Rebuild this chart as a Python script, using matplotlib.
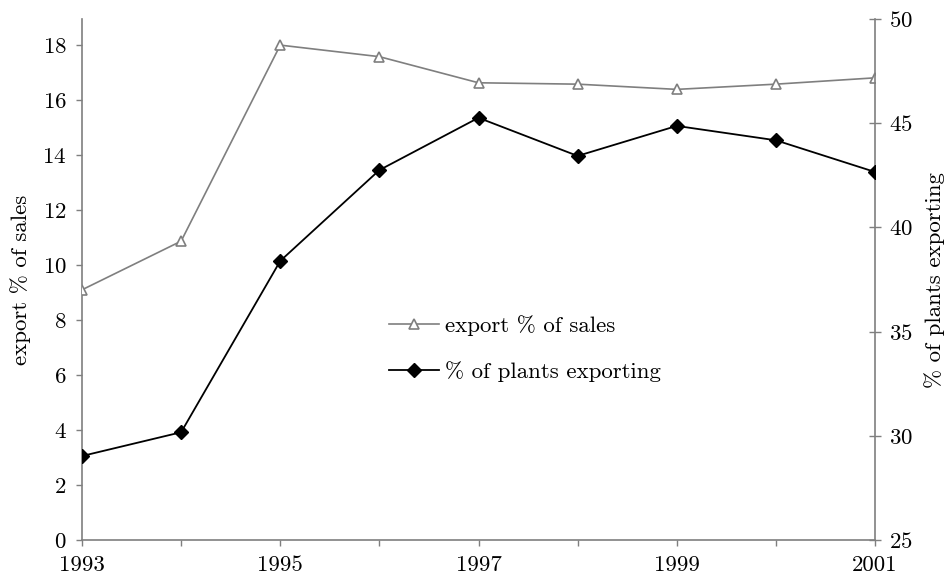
import matplotlib
matplotlib.use("Agg")
import matplotlib.pyplot as plt

plt.rcParams['font.family'] = ['cmr10', 'DejaVu Serif']
plt.rcParams['axes.formatter.use_mathtext'] = True

years = [1993, 1994, 1995, 1996, 1997, 1998, 1999, 2000, 2001]
export_share = [9.1, 10.87, 18.0, 17.58, 16.63, 16.58, 16.39, 16.58, 16.81]
plants_exporting = [29.03, 30.17, 38.39, 42.75, 45.26, 43.43, 44.87, 44.18, 42.66]
year_labels = ['1993', '', '1995', '', '1997', '', '1999', '', '2001']
left_ticks = [0, 2, 4, 6, 8, 10, 12, 14, 16, 18]
right_ticks = [25, 30, 35, 40, 45, 50]

GRAY = '#7f7f7f'
FS = 16.5

fig = plt.figure(figsize=(9.47, 5.84), dpi=100)
ax = fig.add_axes([82 / 947, 1 - 540 / 584, (875 - 82) / 947, (540 - 19) / 584])
ax2 = ax.twinx()

l1, = ax.plot(years, export_share, color=GRAY, lw=1.2, marker='^', ms=6.5,
              mfc='white', mec=GRAY, mew=1.2, label='export % of sales', zorder=3)
l2, = ax2.plot(years, plants_exporting, color='black', lw=1.3, marker='D', ms=7,
               mfc='black', mec='black', label='% of plants exporting', zorder=3)

ax.set_xlim(1993, 2001)
ax.set_ylim(0, 18.95)
ax2.set_ylim(25, 50)

ax.set_xticks(years)
ax.set_xticklabels(year_labels)
ax.set_yticks(left_ticks)
ax2.set_yticks(right_ticks)

for a in (ax, ax2):
    a.spines['top'].set_visible(False)
    for s in a.spines.values():
        s.set_color(GRAY)
        s.set_linewidth(1.2)
ax.spines['right'].set_visible(False)
ax2.spines['left'].set_visible(False)
ax2.spines['bottom'].set_visible(False)

ax.tick_params(axis='y', direction='out', length=4, width=1, color=GRAY,
               labelsize=FS, pad=7)
ax.tick_params(axis='x', direction='out', length=4, width=1, color=GRAY,
               labelsize=FS, pad=7)
ax2.tick_params(axis='y', direction='inout', length=8, width=1, color=GRAY,
                labelsize=FS, pad=6)

ax.set_ylabel('export % of sales', fontsize=FS, labelpad=8)
ax2.set_ylabel('% of plants exporting', fontsize=FS, rotation=90, labelpad=8)

# legend sits in the open space under the curves
ax.legend(handles=[l1, l2], loc='upper left', bbox_to_anchor=(0.375, 0.45),
          frameon=False, fontsize=FS, handlelength=2.2, handletextpad=0.25,
          labelspacing=1.1, borderaxespad=0)

fig.savefig('out.png', dpi=100)
